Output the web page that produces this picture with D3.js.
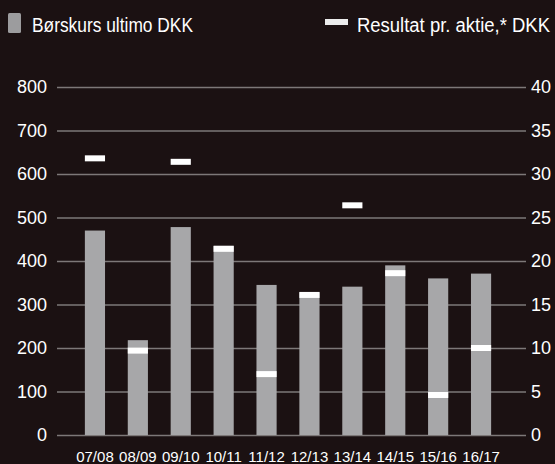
<!DOCTYPE html>
<html>
<head>
<meta charset="utf-8">
<script src="https://cdn.jsdelivr.net/npm/d3@7"></script>
<style>
  html, body { margin: 0; padding: 0; background: #1b1112; }
  svg { display: block; }
  text { font-family: "Liberation Sans", Arial, sans-serif; fill: #ffffff; }
</style>
</head>
<body>
<svg id="chart" width="555" height="464"></svg>
<script>
const categories = ["07/08","08/09","09/10","10/11","11/12","12/13","13/14","14/15","15/16","16/17"];
const shareprice = [470, 218, 478, 435, 345, 328, 341, 390, 360, 371];
const eps = [31.8, 9.7, 31.4, 21.4, 7.0, 16.1, 26.4, 18.6, 4.6, 10.0];
const leftTicks = [0, 100, 200, 300, 400, 500, 600, 700, 800];
const rightTicks = [0, 5, 10, 15, 20, 25, 30, 35, 40];
const legendBar = "Børskurs ultimo DKK";
const legendEps = "Resultat pr. aktie,* DKK";

const svg = d3.select("#chart");
svg.append("rect").attr("width", 555).attr("height", 464).attr("fill", "#1b1112");

const yL = d3.scaleLinear().domain([0, 800]).range([435, 87]);
const yR = d3.scaleLinear().domain([0, 40]).range([435, 87]);
const x = d3.scaleBand().domain(categories).range([73.5, 502.5]).paddingInner(0.53).paddingOuter(0.265);

const gridLeft = 57, gridRight = 526;

// left axis with gridlines
const gL = svg.append("g").attr("transform", `translate(${gridLeft},0)`)
  .call(d3.axisLeft(yL).tickValues(leftTicks).tickSize(-(gridRight - gridLeft)).tickPadding(10).tickFormat(d3.format("d")));
gL.select(".domain").remove();
gL.selectAll(".tick line").attr("stroke", "#7d7878").attr("stroke-width", 1.6);
gL.selectAll(".tick text").attr("font-size", 18).attr("fill", "#fff");

// right axis
const gR = svg.append("g").attr("transform", `translate(${gridRight},0)`)
  .call(d3.axisRight(yR).tickValues(rightTicks).tickSize(0).tickPadding(5).tickFormat(d3.format("d")));
gR.select(".domain").remove();
gR.selectAll(".tick text").attr("font-size", 18).attr("fill", "#fff");

// bars
svg.append("g").selectAll("rect").data(categories).join("rect")
  .attr("x", d => x(d))
  .attr("width", x.bandwidth())
  .attr("y", (d, i) => yL(shareprice[i]))
  .attr("height", (d, i) => yL(0) - yL(shareprice[i]))
  .attr("fill", "#a7a7a9");

// eps markers
svg.append("g").selectAll("rect").data(categories).join("rect")
  .attr("x", d => x(d))
  .attr("width", x.bandwidth())
  .attr("y", (d, i) => yR(eps[i]) - 3)
  .attr("height", 6)
  .attr("fill", "#ffffff");

// x axis
const gX = svg.append("g").attr("transform", `translate(0,435)`)
  .call(d3.axisBottom(x).tickSize(0).tickPadding(16));
gX.select(".domain").remove();
gX.selectAll(".tick text").attr("font-size", 15).attr("fill", "#fff");

// legend (condensed by horizontal scaling to match the reference's narrow face)
function legendText(str, x0, targetWidth) {
  const g = svg.append("g");
  const t = g.append("text").attr("x", 0).attr("y", 0).attr("font-size", 20).text(str);
  const w = t.node().getComputedTextLength();
  g.attr("transform", `translate(${x0},31.7) scale(${targetWidth / w},1)`);
}
svg.append("rect").attr("x", 8).attr("y", 13).attr("width", 13).attr("height", 20).attr("rx", 1.5).attr("fill", "#9c9c9e");
legendText(legendBar, 32, 161);
svg.append("rect").attr("x", 325).attr("y", 19).attr("width", 23).attr("height", 6).attr("fill", "#ececec");
legendText(legendEps, 357, 193);
</script>
</body>
</html>
